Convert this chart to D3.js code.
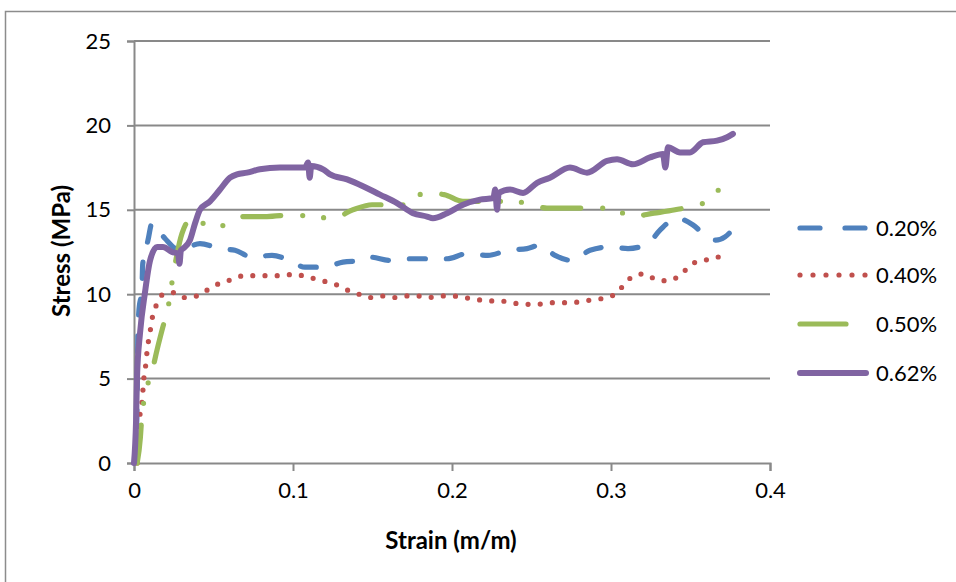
<!DOCTYPE html>
<html>
<head>
<meta charset="utf-8">
<script src="https://cdn.jsdelivr.net/npm/d3@7"></script>
<style>
  html, body { margin: 0; padding: 0; background: #fff; }
  svg { display: block; }
  text { font-family: Lato, "Open Sans", sans-serif; fill: #000; }
</style>
</head>
<body>
<svg id="chart" width="956" height="582"></svg>
<script>
// ---- data (strain m/m, stress MPa) ----
const seriesNames = ["0.20%", "0.40%", "0.50%", "0.62%"];
const seriesColors = ["#4F81BD", "#C0504D", "#9BBB59", "#8064A2"];
const xTicks = [0, 0.1, 0.2, 0.3, 0.4];
const yTicks = [0, 5, 10, 15, 20, 25];

const data020 = [
  [0.001,0],[0.002,4],[0.0025,7.9],[0.003,8.9],[0.005,10.4],[0.0055,11.8],[0.0088,13.2],[0.0113,14.2],
  [0.015,13.8],[0.0195,13.3],[0.0289,12.6],[0.0415,13.0],[0.0541,12.7],[0.0635,12.6],[0.0742,12.2],
  [0.0868,12.3],[0.0981,12.0],[0.1075,11.6],[0.1189,11.6],[0.1314,11.9],[0.1434,12.0],[0.1484,12.2],
  [0.161,12.0],[0.1736,12.1],[0.1862,12.1],[0.1969,12.1],[0.2094,12.4],[0.2226,12.3],[0.2352,12.6],
  [0.2472,12.7],[0.2553,12.9],[0.2648,12.3],[0.2755,12.0],[0.2868,12.6],[0.2994,12.8],[0.3107,12.7],
  [0.3233,13.0],[0.3308,13.8],[0.3415,14.5],[0.3516,14.1],[0.3604,13.4],[0.366,13.2],[0.3717,13.4],[0.378,14.0]
];
const data040 = [
  [0.002,0],[0.003,1.5],[0.0038,2.9],[0.005,3.6],[0.0057,4.4],[0.0063,5.1],[0.0075,5.9],[0.0082,6.6],
  [0.0094,7.4],[0.0107,8.1],[0.0119,8.8],[0.0151,9.5],[0.0182,10.0],[0.0258,10.1],[0.0321,9.8],
  [0.0396,9.9],[0.0453,10.2],[0.0503,10.5],[0.056,10.7],[0.0623,10.9],[0.0692,11.1],[0.0774,11.1],
  [0.0855,11.1],[0.0931,11.1],[0.1013,11.2],[0.1088,11.0],[0.1151,10.9],[0.122,10.7],[0.129,10.5],
  [0.1352,10.2],[0.1415,10.0],[0.1478,9.8],[0.1553,9.9],[0.163,9.8],[0.1704,9.9],[0.178,9.9],
  [0.185,9.8],[0.1925,9.9],[0.2,9.9],[0.2075,9.8],[0.2151,9.7],[0.2226,9.6],[0.2302,9.6],[0.2377,9.5],
  [0.2447,9.4],[0.2535,9.4],[0.261,9.5],[0.2686,9.5],[0.2755,9.5],[0.283,9.6],[0.2906,9.7],[0.298,9.8],
  [0.3038,10.1],[0.3094,10.7],[0.3145,11.1],[0.3208,11.2],[0.3277,10.9],[0.3346,10.8],[0.3415,11.0],
  [0.3465,11.4],[0.351,11.8],[0.358,12.0],[0.364,12.1],[0.370,12.3]
];
const data050 = [
  [0.002,0],[0.004,1.5],[0.0048,2.6],[0.0069,4.0],[0.0113,5.4],[0.0145,6.7],[0.018,8.0],[0.0214,9.2],
  [0.0239,10.7],[0.0302,13.6],[0.0365,14.5],[0.041,14.4],[0.0465,14.0],[0.0579,14.1],[0.0692,14.6],
  [0.0836,14.6],[0.1,14.7],[0.112,14.6],[0.1252,14.5],[0.1377,15.0],[0.1497,15.3],[0.1717,15.3],
  [0.1824,16.0],[0.195,15.9],[0.2069,15.5],[0.2346,15.5],[0.2472,15.4],[0.2597,15.1],[0.2742,15.1],
  [0.3006,15.1],[0.3126,14.6],[0.327,14.8],[0.3403,15.0],[0.3604,15.5],[0.3686,16.3]
];
const data062 = [
  [0,0],[0.0013,2.5],[0.0019,5.1],[0.0038,7.7],[0.0069,10.1],[0.0101,12.0],[0.0145,12.8],[0.0182,12.8],
  [0.0239,12.5],[0.0277,12.4],[0.0286,11.8],[0.0295,12.6],[0.0308,12.7],[0.0352,13.2],[0.0384,14.2],
  [0.0415,15.0],[0.0478,15.5],[0.0541,16.2],[0.0604,16.9],[0.0648,17.1],[0.0711,17.2],[0.0792,17.4],
  [0.0918,17.5],[0.1,17.5],[0.1075,17.5],[0.1095,17.8],[0.1105,16.9],[0.1115,17.6],[0.1189,17.4],
  [0.1233,17.1],[0.134,16.8],[0.144,16.4],[0.1547,15.9],[0.1654,15.4],[0.1755,14.8],[0.1843,14.6],
  [0.188,14.5],[0.1969,14.8],[0.2069,15.3],[0.2176,15.6],[0.226,15.7],[0.2272,16.2],[0.2283,15.0],
  [0.2294,16.0],[0.2365,16.2],[0.2447,16.0],[0.2535,16.6],[0.2616,16.9],[0.2742,17.5],[0.2849,17.2],
  [0.2975,17.9],[0.3038,18.0],[0.3138,17.7],[0.3245,18.1],[0.3327,18.3],[0.3342,17.5],[0.3358,18.7],
  [0.3434,18.4],[0.3497,18.4],[0.3579,19.0],[0.3667,19.1],[0.373,19.3],[0.3767,19.5]
];
const seriesData = [data020, data040, data050, data062];

// ---- styles ----
const styles = [
  { width: 5.2, dash: "16,21", legendDash: "20,25" },
  { width: 5.2, dash: "0,12.2", legendDash: "0,13" },
  { width: 5.2, dash: "38,22,0,21,0,22", legendDash: "46,100" },
  { width: 6, dash: null, legendDash: null }
];

const svg = d3.select("#chart");
const gridColor = "#898989";

// outer chart border
svg.append("rect")
  .attr("x", 5.5).attr("y", 11.5).attr("width", 1000).attr("height", 700)
  .attr("fill", "#fff").attr("stroke", "#8c8c8c").attr("stroke-width", 1.5);

const x = d3.scaleLinear().domain([0, 0.4]).range([134, 770]);
const y = d3.scaleLinear().domain([0, 25]).range([463, 41]);

// gridlines
svg.append("g")
  .selectAll("line")
  .data(yTicks.filter(d => d > 0))
  .join("line")
  .attr("x1", x(0)).attr("x2", x(0.4))
  .attr("y1", d => y(d)).attr("y2", d => y(d))
  .attr("stroke", gridColor).attr("stroke-width", 2);

// axes
const xAxis = svg.append("g")
  .attr("transform", `translate(0,${y(0)})`)
  .call(d3.axisBottom(x).tickValues(xTicks).tickFormat(d => d === 0 ? "0" : String(d)).tickSize(8).tickPadding(11));
const yAxis = svg.append("g")
  .attr("transform", `translate(${x(0)},0)`)
  .call(d3.axisLeft(y).tickValues(yTicks).tickSize(7).tickPadding(16));

[xAxis, yAxis].forEach(g => {
  g.select(".domain").attr("stroke", gridColor).attr("stroke-width", 2);
  g.selectAll(".tick line").attr("stroke", gridColor).attr("stroke-width", 2);
  g.selectAll(".tick text").attr("font-size", 22).attr("fill", "#000")
    .style("font-family", "Lato, 'Open Sans', sans-serif");
});

// axis titles
svg.append("text")
  .attr("x", 451).attr("y", 549)
  .attr("text-anchor", "middle")
  .attr("font-size", 24).attr("font-weight", "bold")
  .text("Strain (m/m)");
svg.append("text")
  .attr("transform", "translate(70,251) rotate(-90)")
  .attr("text-anchor", "middle")
  .attr("font-size", 24).attr("font-weight", "bold")
  .text("Stress (MPa)");

// series
const line = d3.line()
  .x(d => x(d[0]))
  .y(d => y(d[1]))
  .curve(d3.curveMonotoneX);

seriesData.forEach((data, i) => {
  const p = svg.append("path")
    .datum(data)
    .attr("d", line)
    .attr("fill", "none")
    .attr("stroke", seriesColors[i])
    .attr("stroke-width", styles[i].width)
    .attr("stroke-linecap", "round")
    .attr("stroke-linejoin", "round");
  if (styles[i].dash) p.attr("stroke-dasharray", styles[i].dash);
});

// legend
const legendY = [228, 275, 324, 373];
const legend = svg.append("g");
seriesNames.forEach((name, i) => {
  const l = legend.append("line")
    .attr("x1", 800).attr("x2", 866)
    .attr("y1", legendY[i]).attr("y2", legendY[i])
    .attr("stroke", seriesColors[i])
    .attr("stroke-width", styles[i].width)
    .attr("stroke-linecap", "round");
  if (styles[i].legendDash) l.attr("stroke-dasharray", styles[i].legendDash);
  legend.append("text")
    .attr("x", 876).attr("y", legendY[i])
    .attr("dy", "0.36em")
    .attr("font-size", 22)
    .text(name);
});
</script>
</body>
</html>
